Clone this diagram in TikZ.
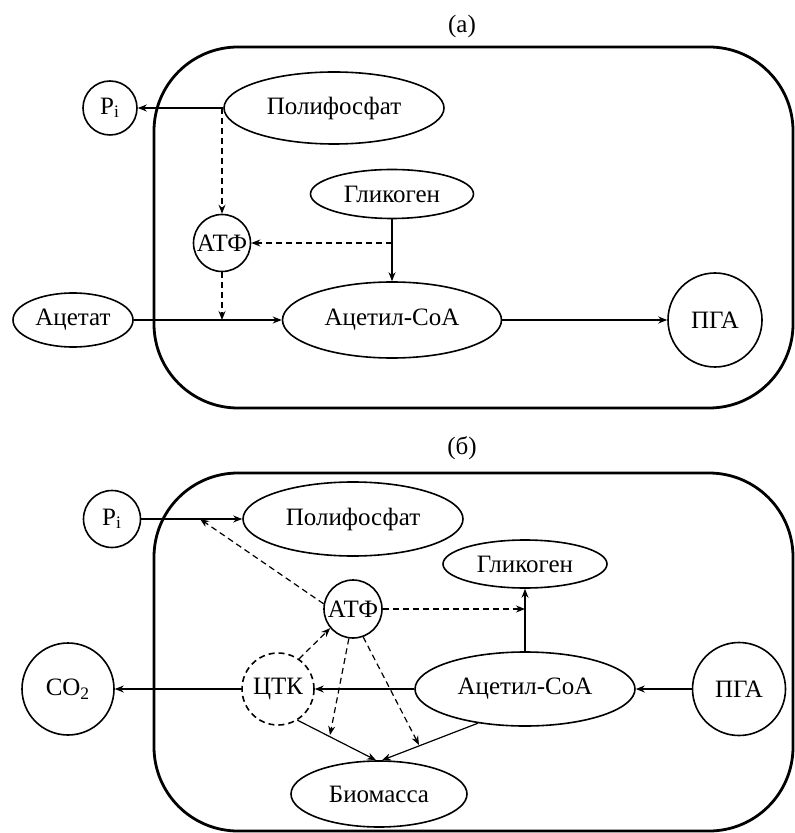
\documentclass[tikz,border=0pt]{standalone}
\usepackage{fontspec}
\setmainfont{Liberation Serif}
\usetikzlibrary{shapes.geometric, arrows.meta}

\begin{document}
\begin{tikzpicture}[x=0.5pt, y=-0.5pt, font=\fontsize{12.5}{15}\selectfont,
    ell/.style={draw, ellipse, inner sep=0pt, line width=0.8pt},
    circ/.style={draw, circle, inner sep=0pt, line width=0.8pt},
    cell/.style={draw, line width=1.4pt, rounded corners=42pt},
    arr/.style={-{Stealth[length=4.5pt, width=3.5pt]}, line width=0.6pt},
    darr/.style={arr, dash pattern=on 3pt off 2pt}]
    \useasboundingbox (0, 0) rectangle (795, 833);

    \node (laba) at (462, 26) {(а)};
    \draw[cell] (154, 47) rectangle (793, 408);
    \node[circ, minimum size=27pt] (pia) at (110, 108) {P\textsubscript{i}};
    \node[ell, minimum width=110pt, minimum height=36pt] (polya) at (334, 108) {Полифосфат};
    \node[ell, minimum width=81.5pt, minimum height=24.5pt] (glya) at (392, 194) {Гликоген};
    \node[circ, minimum size=28.5pt] (atpa) at (222, 243) {АТФ};
    \node[ell, minimum width=60pt, minimum height=27pt] (aceta) at (73, 320) {Ацетат};
    \node[ell, minimum width=109.5pt, minimum height=38pt] (acoa) at (392, 320) {Ацетил-CoA};
    \node[circ, minimum size=47pt] (pgaa) at (715, 320) {ПГА};
    \draw[arr] (polya.west) -- (pia.east);
    \draw[darr] (atpa |- polya.west) -- (atpa.north);
    \draw[arr] (glya.south) -- (acoa.north);
    \draw[darr] (glya.south |- atpa.east) -- (atpa.east);
    \draw[arr] (aceta.east) -- (acoa.west);
    \draw[darr] (atpa.south) -- (atpa |- aceta.east);
    \draw[arr] (acoa.east) -- (pgaa.west);

    \node (labb) at (462, 448) {(б)};
    \draw[cell] (154, 473) rectangle (793, 831);
    \node[circ, minimum size=28.5pt] (pib) at (112, 519) {P\textsubscript{i}};
    \node[ell, minimum width=110pt, minimum height=37pt] (polyb) at (353, 519) {Полифосфат};
    \node[ell, minimum width=82pt, minimum height=24pt] (glyb) at (525, 564) {Гликоген};
    \node[circ, minimum size=29pt] (atpb) at (353, 609) {АТФ};
    \node[circ, minimum size=36pt, dash pattern=on 3pt off 2pt] (tcab) at (278, 689) {ЦТК};
    \node[circ, minimum size=46pt] (co2b) at (68, 689) {CO\textsubscript{2}};
    \node[ell, minimum width=110pt, minimum height=37pt] (acob) at (525, 689) {Ацетил-CoA};
    \node[circ, minimum size=46.5pt] (pgab) at (739, 689) {ПГА};
    \node[ell, minimum width=88pt, minimum height=33pt] (biob) at (379, 794) {Биомасса};
    \coordinate (jb) at (200, 519);
    \coordinate (biol) at (330, 735);
    \coordinate (bior) at (419, 745);
    \draw[arr] (pib.east) -- (polyb.west);
    \draw[darr] (atpb.170) -- (jb);
    \draw[darr] (atpb.east) -- (atpb.east -| glyb.south);
    \draw[arr] (acob.north) -- (glyb.south);
    \draw[arr] (pgab.west) -- (acob.east);
    \draw[arr] (acob.west) -- (tcab.east);
    \draw[arr] (tcab.west) -- (co2b.east);
    \draw[darr] (tcab.55) -- (atpb.220);
    \draw[darr] (atpb.262) -- (biol);
    \draw[darr] (atpb.290) -- (bior);
    \draw[arr] (tcab.-58) -- (biob.95);
    \draw[arr] (acob.216) -- (biob.85);
\end{tikzpicture}
\end{document}
